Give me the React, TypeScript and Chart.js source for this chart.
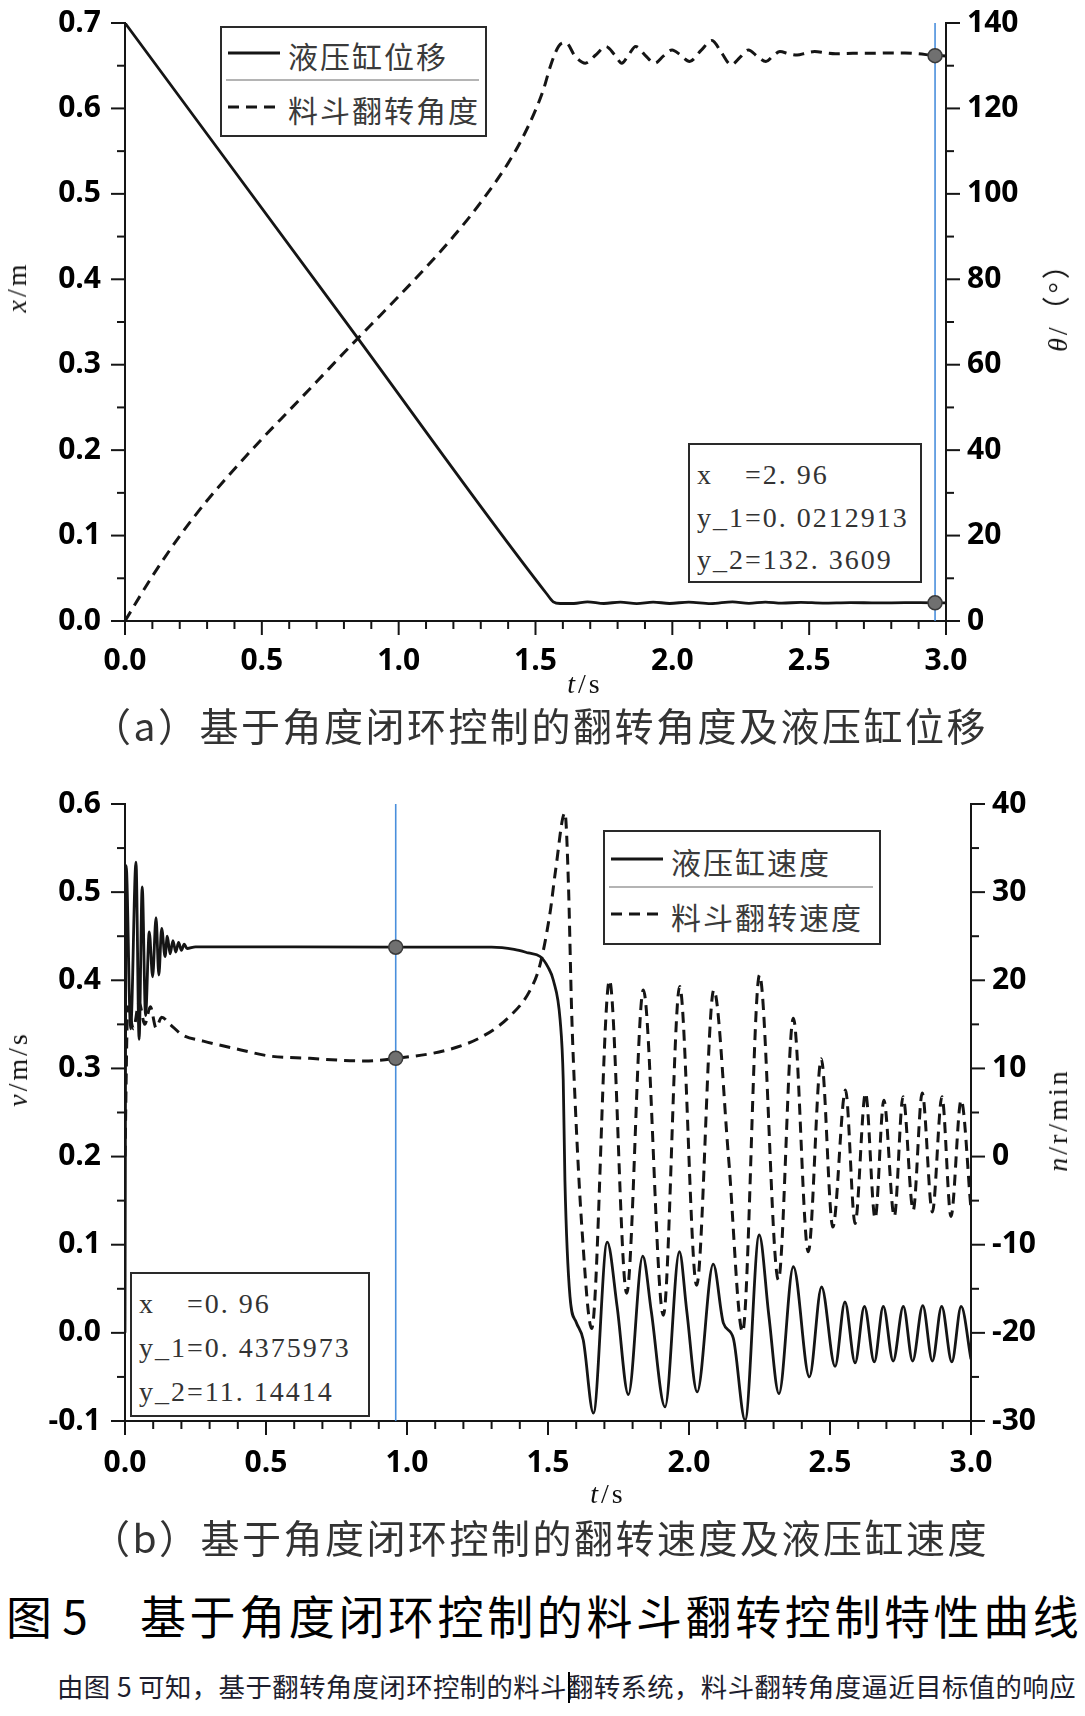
import React, { useEffect, useRef } from "react";
import { Chart, registerables } from "chart.js";
Chart.register(...registerables);

// ---------------- Data: chart (a) ----------------
// time t (s), cylinder displacement x (m)
const CYL_DISP: number[][] = [
  [0, 0.7], [0.8, 0.3531], [1.54, 0.0322], [1.565, 0.0225], [1.59, 0.0205], [1.64, 0.0205],
  [1.69, 0.0225], [1.75, 0.0205], [1.81, 0.0222], [1.87, 0.0203], [1.93, 0.0222], [1.99, 0.0205],
  [2.06, 0.0222], [2.14, 0.0203], [2.22, 0.0225], [2.28, 0.0207], [2.34, 0.0222], [2.4, 0.0209],
  [2.47, 0.0218], [2.55, 0.021], [2.65, 0.0216], [2.75, 0.0211], [2.85, 0.0215], [2.96, 0.0213], [3.0, 0.0213],
];
// time t (s), bucket angle θ (°)
const BUCKET_ANGLE: number[][] = [
  [0, 0], [0.1, 10.5], [0.2, 19.9], [0.3, 28.2], [0.4, 35.6], [0.5, 42.6], [0.6, 49.3], [0.7, 56.0],
  [0.8, 62.8], [0.9, 69.4], [1.0, 76.0], [1.1, 82.8], [1.2, 90.0], [1.3, 98.0], [1.4, 107.2],
  [1.45, 112.8], [1.5, 119.6], [1.53, 124.6], [1.555, 130.0], [1.585, 134.6], [1.611, 135.4],
  [1.645, 132.2], [1.682, 130.6], [1.72, 132.5], [1.757, 134.5], [1.79, 132.5], [1.815, 130.6],
  [1.84, 132.5], [1.866, 134.5], [1.9, 132.5], [1.936, 130.6], [1.968, 132.3], [1.999, 133.7],
  [2.03, 132.5], [2.063, 131.0], [2.105, 133.6], [2.145, 135.9], [2.18, 133.0], [2.215, 130.2],
  [2.248, 132.0], [2.278, 133.7], [2.31, 132.2], [2.342, 131.0], [2.37, 132.4], [2.393, 133.3],
  [2.425, 132.8], [2.456, 132.5], [2.49, 133.0], [2.52, 133.3], [2.56, 133.0], [2.596, 132.8],
  [2.66, 132.9], [2.723, 132.9], [2.79, 133.0], [2.85, 133.0], [2.9, 132.8], [2.96, 132.36], [3.0, 132.3],
];
const CURSOR_A = { t: 2.96, y1: 0.0212913, y2: 132.3609 };

// ---------------- Data: chart (b) ----------------
// time t (s), cylinder speed v (m/s)
const CYL_SPEED: number[][] = [
  [0, 0], [0.004, 0.53], [0.02, 0.345], [0.039, 0.534], [0.05, 0.333], [0.061, 0.506], [0.073, 0.36],
  [0.086, 0.455], [0.098, 0.404], [0.11, 0.471], [0.12, 0.406], [0.13, 0.459], [0.142, 0.427],
  [0.15, 0.45], [0.16, 0.43], [0.17, 0.445], [0.18, 0.432], [0.19, 0.443], [0.2, 0.434],
  [0.21, 0.441], [0.22, 0.436], [0.25, 0.438], [0.96, 0.4376], [1.3, 0.4376], [1.38, 0.435],
  [1.43, 0.431], [1.472, 0.427], [1.5, 0.415], [1.519, 0.4], [1.543, 0.355], [1.554, 0.287],
  [1.56, 0.173], [1.578, 0.041], [1.6, 0.012], [1.625, -0.008], [1.661, -0.091], [1.71, 0.103],
  [1.745, 0.03], [1.785, -0.07], [1.836, 0.087], [1.866, 0.025], [1.915, -0.084], [1.966, 0.092],
  [1.992, 0.025], [2.029, -0.067], [2.086, 0.078], [2.122, 0.011], [2.157, -0.006], [2.199, -0.099],
  [2.249, 0.111], [2.283, 0.02], [2.319, -0.069], [2.37, 0.075], [2.427, -0.05], [2.47, 0.052],
  [2.518, -0.038], [2.553, 0.035], [2.589, -0.034], [2.622, 0.03], [2.657, -0.033], [2.689, 0.03],
  [2.724, -0.032], [2.76, 0.03], [2.793, -0.032], [2.829, 0.031], [2.863, -0.032], [2.896, 0.03],
  [2.932, -0.033], [2.965, 0.03], [3.0, -0.03],
];
// time t (s), bucket rotation speed n (r/min)
const BUCKET_SPEED: number[][] = [
  [0, 0], [0.01, 17], [0.03, 14.5], [0.05, 17.5], [0.07, 15], [0.09, 17], [0.11, 14.6], [0.13, 15.8],
  [0.16, 15.0], [0.204, 13.8], [0.278, 13.1], [0.411, 12.1], [0.514, 11.4], [0.656, 11.15],
  [0.778, 10.9], [0.85, 10.85], [0.961, 11.14], [1.144, 12.1], [1.266, 13.6], [1.364, 15.9],
  [1.437, 18.9], [1.472, 21.8], [1.507, 27.6], [1.527, 32.5], [1.56, 39.0], [1.572, 31.4],
  [1.584, 16.3], [1.596, 6.4], [1.62, -8], [1.655, -19.5], [1.718, 20.0], [1.779, -15.5],
  [1.838, 18.9], [1.909, -18.0], [1.967, 19.3], [2.027, -14.6], [2.088, 18.9], [2.14, 0],
  [2.19, -19.9], [2.25, 20.6], [2.317, -14.0], [2.37, 15.7], [2.423, -10.8], [2.469, 11.1],
  [2.51, -8.0], [2.555, 7.55], [2.589, -7.6], [2.626, 7.2], [2.66, -7.0], [2.691, 6.4],
  [2.728, -6.8], [2.759, 6.8], [2.795, -6.1], [2.827, 7.2], [2.863, -6.3], [2.897, 6.8],
  [2.929, -6.8], [2.965, 6.4], [3.0, -6.0],
];
const CURSOR_B = { t: 0.96, y1: 0.4375973, y2: 11.14414 };

// ---------------- Ticks ----------------
const T_MAJOR = [0, 0.5, 1, 1.5, 2, 2.5, 3];
const T_MINOR = [0.1, 0.2, 0.3, 0.4, 0.6, 0.7, 0.8, 0.9, 1.1, 1.2, 1.3, 1.4, 1.6, 1.7, 1.8, 1.9, 2.1, 2.2, 2.3, 2.4, 2.6, 2.7, 2.8, 2.9];
const A_LEFT_MAJOR = [0, 0.1, 0.2, 0.3, 0.4, 0.5, 0.6, 0.7];
const A_LEFT_MINOR = [0.05, 0.15, 0.25, 0.35, 0.45, 0.55, 0.65];
const A_RIGHT_MAJOR = [0, 20, 40, 60, 80, 100, 120, 140];
const A_RIGHT_MINOR = [10, 30, 50, 70, 90, 110, 130];
const B_LEFT_MAJOR = [-0.1, 0, 0.1, 0.2, 0.3, 0.4, 0.5, 0.6];
const B_LEFT_MINOR = [-0.05, 0.05, 0.15, 0.25, 0.35, 0.45, 0.55];
const B_RIGHT_MAJOR = [-30, -20, -10, 0, 10, 20, 30, 40];
const B_RIGHT_MINOR = [-25, -15, -5, 5, 15, 25, 35];

const INK = "#151515";
const BLUE = "#4a8fdc";
const TICK_FONT = { family: '"Open Sans", "Noto Sans", sans-serif', weight: "bold" as const, size: 30 };

const pts = (arr: number[][]) => arr.map(([x, y]) => ({ x, y }));

function lineDs(data: number[][], yAxisID: string, dashed: boolean) {
  return {
    data: pts(data),
    yAxisID,
    borderColor: INK,
    borderWidth: dashed ? 3 : 2.8,
    borderDash: dashed ? [11, 7] : [],
    pointRadius: 0,
    cubicInterpolationMode: "monotone",
    fill: false,
    order: 1,
  };
}

function makeConfig(p: any) {
  const tickPlugin = {
    id: "axisTicks",
    afterDraw(chart: any) {
      const { ctx, chartArea: a } = chart;
      ctx.save();
      ctx.strokeStyle = INK;
      ctx.lineWidth = 2;
      for (const d of p.tickDefs) {
        const scale = chart.scales[d.id];
        const draw = (vals: number[], len: number) => {
          for (const v of vals) {
            const q = scale.getPixelForValue(v);
            ctx.beginPath();
            if (d.side === "left") { ctx.moveTo(a.left - len, q); ctx.lineTo(a.left, q); }
            else if (d.side === "right") { ctx.moveTo(a.right, q); ctx.lineTo(a.right + len, q); }
            else { ctx.moveTo(q, a.bottom); ctx.lineTo(q, a.bottom + len); }
            ctx.stroke();
          }
        };
        draw(d.major, 14);
        draw(d.minor, 8);
      }
      ctx.restore();
    },
  };
  const border = { display: true, color: INK, width: 2 };
  const grid = { display: false, drawTicks: false };
  return {
    type: "line",
    data: { datasets: p.datasets },
    plugins: [tickPlugin],
    options: {
      responsive: false,
      animation: false,
      events: [],
      layout: { padding: { top: p.padTop, left: 0, right: 0, bottom: 0 } },
      plugins: { legend: { display: false }, tooltip: { enabled: false }, title: { display: false } },
      scales: {
        x: {
          type: "linear", min: 0, max: 3,
          afterBuildTicks: (s: any) => { s.ticks = T_MAJOR.map((v) => ({ value: v })); },
          afterFit: (s: any) => { s.height = p.bottomH; },
          grid, border,
          ticks: { padding: p.xPad, color: "#000", font: TICK_FONT, maxRotation: 0, autoSkip: false,
            callback: (v: any) => Number(v).toFixed(1) },
        },
        y: {
          type: "linear", position: "left", min: p.yMin, max: p.yMax,
          afterBuildTicks: (s: any) => { s.ticks = p.yMajor.map((v: number) => ({ value: v })); },
          afterFit: (s: any) => { s.width = p.leftW; },
          grid, border,
          ticks: { padding: 24, color: "#000", font: TICK_FONT, autoSkip: false,
            callback: (v: any) => Number(v).toFixed(1) },
        },
        y2: {
          type: "linear", position: "right", min: p.y2Min, max: p.y2Max,
          afterBuildTicks: (s: any) => { s.ticks = p.y2Major.map((v: number) => ({ value: v })); },
          afterFit: (s: any) => { s.width = p.rightW; },
          grid, border,
          ticks: { padding: 21, color: "#000", font: TICK_FONT, autoSkip: false,
            callback: (v: any) => String(Math.round(Number(v))) },
        },
      },
    },
  };
}

function cursorDatasets(c: any, yMin: number, yMax: number) {
  return [
    { data: [{ x: c.t, y: c.y1 }], yAxisID: "y", showLine: false, pointRadius: 7, pointBackgroundColor: "#707070",
      pointBorderColor: "#3a3a3a", pointBorderWidth: 1.5, order: 0 },
    { data: [{ x: c.t, y: c.y2 }], yAxisID: "y2", showLine: false, pointRadius: 7, pointBackgroundColor: "#707070",
      pointBorderColor: "#3a3a3a", pointBorderWidth: 1.5, order: 0 },
    { data: [{ x: c.t, y: yMin }, { x: c.t, y: yMax }], yAxisID: "y", borderColor: BLUE, borderWidth: 1.6,
      pointRadius: 0, order: 2 },
  ];
}

// top canvas spans y = -30 .. 700 ; plot area 23 .. 621
function topConfig() {
  return makeConfig({
    datasets: [lineDs(CYL_DISP, "y", false), lineDs(BUCKET_ANGLE, "y2", true), ...cursorDatasets(CURSOR_A, 0, 0.7)],
    padTop: 53, bottomH: 79, leftW: 125, rightW: 139, xPad: 22,
    yMin: 0, yMax: 0.7, yMajor: A_LEFT_MAJOR, y2Min: 0, y2Max: 140, y2Major: A_RIGHT_MAJOR,
    tickDefs: [
      { id: "x", side: "bottom", major: T_MAJOR, minor: T_MINOR },
      { id: "y", side: "left", major: A_LEFT_MAJOR, minor: A_LEFT_MINOR },
      { id: "y2", side: "right", major: A_RIGHT_MAJOR, minor: A_RIGHT_MINOR },
    ],
  });
}

// bottom canvas spans y = 750 .. 1500 ; plot area 804 .. 1421
function bottomConfig() {
  return makeConfig({
    datasets: [lineDs(CYL_SPEED, "y", false), lineDs(BUCKET_SPEED, "y2", true), ...cursorDatasets(CURSOR_B, -0.1, 0.6)],
    padTop: 54, bottomH: 79, leftW: 125, rightW: 114, xPad: 24,
    yMin: -0.1, yMax: 0.6, yMajor: B_LEFT_MAJOR, y2Min: -30, y2Max: 40, y2Major: B_RIGHT_MAJOR,
    tickDefs: [
      { id: "x", side: "bottom", major: T_MAJOR, minor: T_MINOR },
      { id: "y", side: "left", major: B_LEFT_MAJOR, minor: B_LEFT_MINOR },
      { id: "y2", side: "right", major: B_RIGHT_MAJOR, minor: B_RIGHT_MINOR },
    ],
  });
}

function ChartCanvas({ make, top, height }: { make: () => any; top: number; height: number }) {
  const ref = useRef<HTMLCanvasElement | null>(null);
  useEffect(() => {
    const chart = new Chart(ref.current as HTMLCanvasElement, make());
    return () => chart.destroy();
  }, []);
  return (
    <canvas ref={ref} width={1085} height={height}
      style={{ position: "absolute", left: 0, top, width: 1085, height, display: "block" }} />
  );
}

const SERIF = '"Liberation Serif", "Times New Roman", "Noto Sans CJK SC", serif';
const CJK = '"Noto Sans CJK SC", sans-serif';

function AxisTitle({ cx, cy, rotate, children }: any) {
  return (
    <div style={{
      position: "absolute", left: cx, top: cy, transform: `translate(-50%, -50%)${rotate ? " rotate(-90deg)" : ""}`,
      whiteSpace: "nowrap", fontFamily: SERIF, fontSize: 28, letterSpacing: 3, color: "#111", lineHeight: "30px",
    }}>{children}</div>
  );
}

function LegendSample({ x, y, dashed }: any) {
  return (
    <svg style={{ position: "absolute", left: x, top: y - 3 }} width={52} height={6}>
      <line x1={0} y1={3} x2={52} y2={3} stroke={INK} strokeWidth={3} strokeDasharray={dashed ? "11 7" : undefined} />
    </svg>
  );
}

function Legend({ left, top, width, height, row1, row2, labels }: any) {
  const txt = (y: number, s: string) => (
    <div style={{ position: "absolute", left: 66, top: y - top - 20, height: 40, lineHeight: "40px", fontFamily: CJK,
      fontSize: 30, letterSpacing: 2, color: "#3a3a3a", whiteSpace: "nowrap" }}>{s}</div>
  );
  return (
    <div style={{ position: "absolute", left, top, width, height, border: "2px solid #2a2a2a", boxSizing: "border-box", background: "#fff" }}>
      <LegendSample x={6} y={row1 - top - 2} dashed={false} />
      {txt(row1, labels[0])}
      <div style={{ position: "absolute", left: 4, right: 6, top: (row1 + row2) / 2 - top - 3, height: 0, borderTop: "2px solid #b4b4b4" }} />
      <LegendSample x={6} y={row2 - top - 2} dashed={true} />
      {txt(row2, labels[1])}
    </div>
  );
}

function Readout({ left, top, width, height, lines, c }: any) {
  const rows = [["x", String(c.t).replace(".", ". ")], ["y_1", c.s1], ["y_2", c.s2]];
  return (
    <div style={{ position: "absolute", left, top, width, height, border: "2px solid #2a2a2a", boxSizing: "border-box", background: "#fff" }}>
      {rows.map((r, i) => (
        <div key={i} style={{ position: "absolute", left: 7, top: lines[i] - top - 20, height: 40, lineHeight: "40px",
          fontFamily: SERIF, fontSize: 28, letterSpacing: 2, color: "#333", whiteSpace: "pre" }}>
          <span style={{ display: "inline-block", width: 48 }}>{r[0]}</span>={r[1]}
        </div>
      ))}
    </div>
  );
}

function Centered({ cx, cy, size, family, color, ls, children, weight }: any) {
  return (
    <div style={{ position: "absolute", left: cx, top: cy, transform: "translate(-50%, -50%)", whiteSpace: "nowrap",
      fontFamily: family, fontSize: size, color, letterSpacing: ls, fontWeight: weight || 400, lineHeight: 1.2 }}>{children}</div>
  );
}

export default function App() {
  return (
    <div style={{ position: "absolute", left: 0, top: 0, width: 1085, height: 1716, background: "#fff", overflow: "hidden" }}>
      <ChartCanvas make={topConfig} top={-30} height={730} />
      <ChartCanvas make={bottomConfig} top={750} height={750} />

      {/* Chart (a) decorations */}
      <Legend left={220} top={26} width={267} height={111} row1={53} row2={107} labels={["液压缸位移", "料斗翻转角度"]} />
      <Readout left={688} top={443} width={234} height={140} lines={[473, 516, 558]}
        c={{ t: CURSOR_A.t, s1: "0. 0212913", s2: "132. 3609" }} />
      <AxisTitle cx={17} cy={287} rotate><i>x</i>/m</AxisTitle>
      <AxisTitle cx={1058} cy={300} rotate><i>θ</i>/（°）</AxisTitle>
      <AxisTitle cx={585} cy={684}><i>t</i>/s</AxisTitle>
      <Centered cx={540} cy={724} size={39} family={CJK} color="#333" ls={2.5}>（a）基于角度闭环控制的翻转角度及液压缸位移</Centered>

      {/* Chart (b) decorations */}
      <Legend left={603} top={830} width={278} height={115} row1={859} row2={914} labels={["液压缸速度", "料斗翻转速度"]} />
      <Readout left={130} top={1272} width={240} height={145} lines={[1302, 1346, 1390]}
        c={{ t: CURSOR_B.t, s1: "0. 4375973", s2: "11. 14414" }} />
      <AxisTitle cx={18} cy={1069} rotate><i>v</i>/m/s</AxisTitle>
      <AxisTitle cx={1058} cy={1120} rotate><i>n</i>/r/min</AxisTitle>
      <AxisTitle cx={608} cy={1494}><i>t</i>/s</AxisTitle>
      <Centered cx={540} cy={1536} size={39} family={CJK} color="#333" ls={2.5}>（b）基于角度闭环控制的翻转速度及液压缸速度</Centered>

      {/* Figure title and body text */}
      <div style={{ position: "absolute", left: 6, top: 1615, transform: "translateY(-50%)", fontFamily: CJK, fontSize: 46,
        color: "#000", whiteSpace: "nowrap", lineHeight: 1.2 }}>图 5</div>
      <div style={{ position: "absolute", left: 140, top: 1615, transform: "translateY(-50%)", fontFamily: CJK, fontSize: 46,
        letterSpacing: 3.6, color: "#000", whiteSpace: "nowrap", lineHeight: 1.2 }}>基于角度闭环控制的料斗翻转控制特性曲线</div>
      <div style={{ position: "absolute", left: 57, top: 1686, transform: "translateY(-50%)", fontFamily: CJK, fontSize: 26.4,
        letterSpacing: 0.4, color: "#1e1e2e", whiteSpace: "nowrap", lineHeight: 1.2 }}>由图 5 可知，基于翻转角度闭环控制的料斗翻转系统，料斗翻转角度逼近目标值的响应</div>
      <div style={{ position: "absolute", left: 568, top: 1672, width: 2, height: 31, background: "#000" }} />
    </div>
  );
}
